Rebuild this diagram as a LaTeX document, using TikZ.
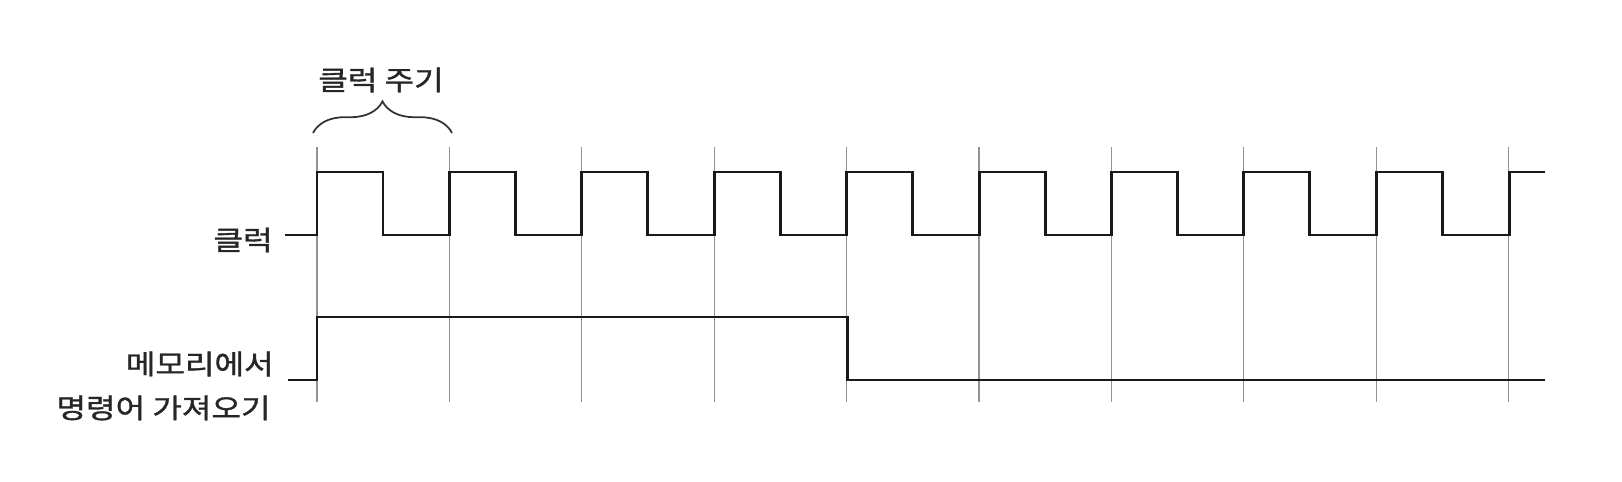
\documentclass[tikz,border=0pt]{standalone}
\usepackage{fontspec}
\setmainfont[FakeStretch=1.18, FakeBold=1.2]{Noto Sans CJK KR}
\usetikzlibrary{decorations.pathreplacing}

\begin{document}
\begin{tikzpicture}[x=0.02cm, y=-0.02cm,
    every node/.style={font=\fontsize{15.5pt}{18pt}\selectfont, text=black!85, inner sep=0pt},
    signal/.style={line width=1.7pt, black!90},
    gridline/.style={line width=0.75pt, gray!85}]
\useasboundingbox (0,0) rectangle (1622,482);
% Clock edges
\foreach \i in {0,...,9}
  \draw[gridline] ({317+132.4*\i},147) coordinate (g\i) -- ({317+132.4*\i},402);
% Clock
\draw[signal] (285,235) \foreach \i in {0,...,8} {
    -- ({317+132.4*\i},235) -- ({317+132.4*\i},172)
    -- ({383+132.4*\i},172) -- ({383+132.4*\i},235) }
  -- (1509,235) -- (1509,172) -- (1545,172);
% Fetch
\draw[signal] (288,380) -- (317,380) -- (317,317) -- (847,317) -- (847,380) -- (1545,380);
% Labels
\node[anchor=east] (clk) at (273,240) {클럭};
\node[anchor=east] (fetch1) at (274,364) {메모리에서};
\node[anchor=east] (fetch2) at (271,408) {명령어 가져오기};
% Period
\coordinate (b1) at (313,133);
\coordinate (b2) at (452,133);
\draw[decorate, decoration={brace, amplitude=18pt}, line width=1pt, black!80] (b1) -- (b2);
\node (period) at (381,80) {클럭 주기};
\end{tikzpicture}
\end{document}
